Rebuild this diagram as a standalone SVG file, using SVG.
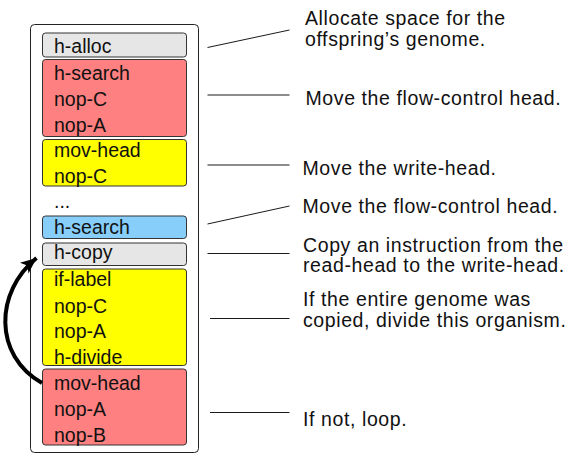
<svg xmlns="http://www.w3.org/2000/svg" width="567" height="453" viewBox="0 0 567 453">
<style>
text{font-family:"Liberation Sans",Arial,sans-serif;fill:#111}
.l{font-size:19.5px}
.r{font-size:19.5px;letter-spacing:0.6px}
.blk{stroke:#333;stroke-width:1}
.grey{fill:#e6e6e6}.red{fill:#ff8080}.yel{fill:#ffff00}.blue{fill:#87cefa}
.conn line{stroke:#1a1a1a;stroke-width:1}
</style>
<defs>
<marker id="ah" markerUnits="userSpaceOnUse" markerWidth="18" markerHeight="16" refX="16" refY="7" orient="auto">
<path d="M0,0 L16,7 L0,14 L4,7 Z" fill="#000"/>
</marker>
</defs>
<rect x="30.5" y="24.5" width="168" height="428" rx="4" fill="#fff" stroke="#222" stroke-width="1"/>
<g id="n-halloc"><rect class="blk grey" x="42.5" y="33" width="144" height="24" rx="3"/><text class="l" x="54" y="53">h-alloc</text></g>
<g id="n-hsearch1"><rect class="blk red" x="42.5" y="59.5" width="144" height="77" rx="3"/><text class="l" x="54" y="80">h-search</text><text class="l" x="54" y="106">nop-C</text><text class="l" x="54" y="131.5">nop-A</text></g>
<g id="n-movhead1"><rect class="blk yel" x="42.5" y="139.5" width="144" height="46.5" rx="3"/><text class="l" x="54" y="156.5">mov-head</text><text class="l" x="54" y="182.5">nop-C</text></g>
<g id="n-dots"><text class="l" x="54" y="208">...</text></g>
<g id="n-hsearch2"><rect class="blk blue" x="42.5" y="216" width="144" height="22.5" rx="3"/><text class="l" x="54" y="234">h-search</text></g>
<g id="n-hcopy"><rect class="blk grey" x="42.5" y="243" width="144" height="22.5" rx="3"/><text class="l" x="54" y="259">h-copy</text></g>
<g id="n-iflabel"><rect class="blk yel" x="42.5" y="269" width="144" height="96.5" rx="3"/><text class="l" x="54" y="286">if-label</text><text class="l" x="54" y="313">nop-C</text><text class="l" x="54" y="338">nop-A</text><text class="l" x="54" y="364">h-divide</text></g>
<g id="n-movhead2"><rect class="blk red" x="42.5" y="369" width="144" height="76" rx="3"/><text class="l" x="54" y="390">mov-head</text><text class="l" x="54" y="416">nop-A</text><text class="l" x="54" y="441.5">nop-B</text></g>
<g id="labels">
<text class="r" x="305" y="25">Allocate space for the</text>
<text class="r" x="305" y="45.5">offspring’s genome.</text>
<text class="r" x="305.5" y="105">Move the flow-control head.</text>
<text class="r" x="302.5" y="174.5">Move the write-head.</text>
<text class="r" x="302.5" y="212.5">Move the flow-control head.</text>
<text class="r" x="303" y="251.5">Copy an instruction from the</text>
<text class="r" x="303" y="272">read-head to the write-head.</text>
<text class="r" x="303" y="306">If the entire genome was</text>
<text class="r" x="303" y="326.5">copied, divide this organism.</text>
<text class="r" x="303" y="426">If not, loop.</text>
</g>
<g class="conn" id="connectors">
<line x1="207.5" y1="47.5" x2="289.5" y2="30"/>
<line x1="207.5" y1="95" x2="289.5" y2="95"/>
<line x1="207.5" y1="165" x2="289.5" y2="165"/>
<line x1="207.5" y1="224" x2="289.5" y2="206"/>
<line x1="207.5" y1="253.5" x2="289.5" y2="253.5"/>
<line x1="210" y1="318.5" x2="289.5" y2="318.5"/>
<line x1="210" y1="412.5" x2="289.5" y2="412.5"/>
<path d="M42,383 C-7,355 -5,292 36.5,258" fill="none" stroke="#000" stroke-width="4" marker-end="url(#ah)"/>
</g>
</svg>
